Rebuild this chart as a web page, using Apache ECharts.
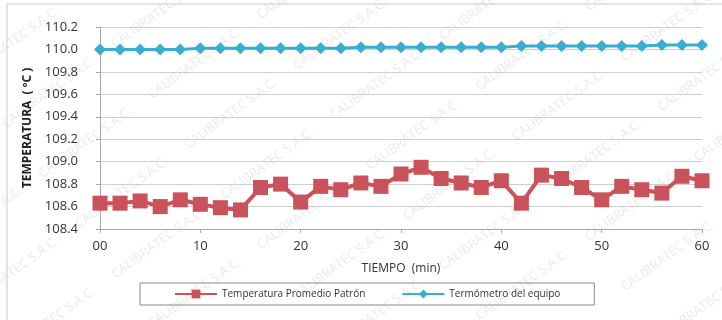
<!DOCTYPE html>
<html>
<head>
<meta charset="utf-8">
<script src="https://cdn.jsdelivr.net/npm/echarts@6/dist/echarts.min.js"></script>
<style>
  html, body { margin: 0; padding: 0; background: #fff; }
  #chart { width: 722px; height: 320px; }
</style>
</head>
<body>
<div id="chart"></div>
<script>
const minutes = [0, 2, 4, 6, 8, 10, 12, 14, 16, 18, 20, 22, 24, 26, 28, 30,
  32, 34, 36, 38, 40, 42, 44, 46, 48, 50, 52, 54, 56, 58, 60];
const patron = [108.63, 108.63, 108.65, 108.60, 108.66, 108.62, 108.59, 108.57,
  108.77, 108.80, 108.64, 108.78, 108.75, 108.81, 108.78, 108.89,
  108.95, 108.85, 108.81, 108.77, 108.83, 108.63, 108.88, 108.85,
  108.77, 108.66, 108.78, 108.75, 108.72, 108.87, 108.83];
const equipo = [110.00, 110.00, 110.00, 110.00, 110.00, 110.01, 110.01, 110.01,
  110.01, 110.01, 110.01, 110.01, 110.01, 110.02, 110.02, 110.02,
  110.02, 110.02, 110.02, 110.02, 110.02, 110.03, 110.03, 110.03,
  110.03, 110.03, 110.03, 110.03, 110.04, 110.04, 110.04];
const seriesNames = ['Temperatura Promedio Patrón', 'Termómetro del equipo'];

const font = '"Open Sans", "Noto Sans", sans-serif';

// faint diagonal watermark chains like the scanned certificate
const marks = [];
const ang = Math.PI / 5;
const dir = [Math.cos(ang), -Math.sin(ang)];
const perp = [Math.sin(ang), Math.cos(ang)];
for (let j = -8; j < 12; j++) {
  for (let k = -2; k < 9; k++) {
    const x = k * 135 * dir[0] + j * 62 * perp[0];
    const y = 320 + k * 135 * dir[1] + j * 62 * perp[1] - 200;
    if (x < -120 || x > 740 || y < -20 || y > 360) continue;
    marks.push({
      type: 'text',
      x: x,
      y: y,
      rotation: ang,
      silent: true,
      z: -1,
      style: { text: 'CALIBRATEC S.A.C.', fill: 'rgba(150,150,150,0.2)', font: '13px ' + font }
    });
  }
}

const chart = echarts.init(document.getElementById('chart'));
chart.setOption({
  animation: false,
  textStyle: { fontFamily: font },
  grid: { left: 100, right: 20, top: 27, bottom: 91 },
  xAxis: {
    type: 'value',
    min: 0,
    max: 60,
    interval: 10,
    name: 'TIEMPO  (min)',
    nameLocation: 'middle',
    nameGap: 34,
    nameTextStyle: { fontSize: 12, color: '#333' },
    axisLine: { lineStyle: { color: '#a8a8a8' } },
    axisTick: { show: true, length: 4, lineStyle: { color: '#a8a8a8' } },
    splitLine: { show: false },
    axisLabel: {
      fontSize: 13,
      color: '#333',
      margin: 11,
      formatter: (v) => (v === 0 ? '00' : String(v))
    }
  },
  yAxis: {
    type: 'value',
    min: 108.4,
    max: 110.2,
    interval: 0.2,
    name: 'TEMPERATURA  ( ºC )',
    nameLocation: 'middle',
    nameGap: 60,
    nameTextStyle: { fontSize: 12, fontWeight: 'bold', color: '#222' },
    axisLine: { show: true, lineStyle: { color: '#a8a8a8' } },
    axisTick: { show: true, length: 4, lineStyle: { color: '#a8a8a8' } },
    splitLine: { lineStyle: { color: '#cfcfcf' } },
    axisLabel: {
      fontSize: 13,
      color: '#333',
      margin: 22,
      formatter: (v) => v.toFixed(1)
    }
  },
  legend: {
    data: seriesNames,
    left: 140,
    top: 283,
    itemWidth: 42,
    itemHeight: 11,
    itemGap: 36,
    padding: [6, 34, 6, 34],
    borderColor: '#8a8a8a',
    borderWidth: 1,
    textStyle: { fontSize: 10, color: '#333' }
  },
  graphic: [
    {
      type: 'rect',
      silent: true,
      shape: { x: 7, y: 4, width: 720, height: 330 },
      style: { fill: 'none', stroke: '#c8c8c8', lineWidth: 1 }
    }
  ].concat(marks),
  series: [
    {
      name: seriesNames[0],
      type: 'line',
      data: minutes.map((m, i) => [m, patron[i]]),
      symbol: 'rect',
      symbolSize: 15,
      itemStyle: { color: '#c9525b' },
      lineStyle: { color: '#c9525b', width: 4 },
      z: 3
    },
    {
      name: seriesNames[1],
      type: 'line',
      data: minutes.map((m, i) => [m, equipo[i]]),
      symbol: 'diamond',
      symbolSize: 12,
      itemStyle: { color: '#3aaed0' },
      lineStyle: { color: '#3aaed0', width: 3 },
      z: 3
    }
  ]
});
</script>
</body>
</html>
